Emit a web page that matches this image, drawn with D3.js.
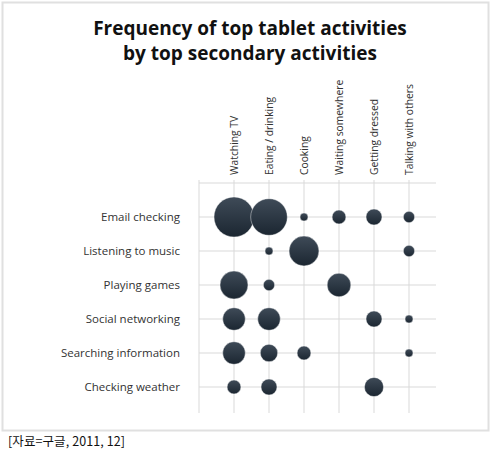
<!DOCTYPE html>
<html><head><meta charset="utf-8">
<script src="https://cdn.jsdelivr.net/npm/d3@7/dist/d3.min.js"></script>
<style>body{margin:0;background:#fff}svg{display:block}</style>
</head><body>
<svg id="c" width="500" height="456"></svg>
<script>
const titleLines = ["Frequency of top tablet activities", "by top secondary activities"];
const columns = ["Watching TV", "Eating / drinking", "Cooking", "Waiting somewhere", "Getting dressed", "Talking with others"];
const rows = ["Email checking", "Listening to music", "Playing games", "Social networking", "Searching information", "Checking weather"];
// relative frequency, one array per row, aligned with columns (0 = none)
const emailChecking     = [100, 84, 4, 12, 16, 8];
const listeningToMusic  = [0, 4, 56, 0, 0, 8];
const playingGames      = [49, 8, 0, 35, 0, 0];
const socialNetworking  = [32, 32, 0, 0, 16, 4];
const searchingInfo     = [32, 19, 12, 0, 0, 4];
const checkingWeather   = [12, 16, 0, 0, 23, 0];
const sourceNote = "[자료=구글, 2011, 12]";

const matrix = [emailChecking, listeningToMusic, playingGames, socialNetworking, searchingInfo, checkingWeather];
const cells = [];
matrix.forEach((vals, ri) => vals.forEach((v, ci) => { if (v > 0) cells.push({row: rows[ri], col: columns[ci], value: v}); }));

const svg = d3.select("#c");
const font = "'Open Sans', sans-serif";

// frame
svg.append("rect").attr("x", 2.5).attr("y", 2.5).attr("width", 486).attr("height", 428)
  .attr("fill", "#fff").attr("stroke", "#e0e0e0").attr("stroke-width", 2);

// title
svg.append("text").attr("x", 250).attr("y", 35).attr("text-anchor", "middle")
  .attr("font-family", font).attr("font-weight", 700).attr("font-size", 19).attr("fill", "#111")
  .selectAll("tspan").data(titleLines).join("tspan")
  .attr("x", 250).attr("dy", (d, i) => i ? 25 : 0).text(d => d);

// scales
const x = d3.scalePoint().domain(["", ...columns]).range([199, 409]);
const y = d3.scalePoint().domain(["", ...rows]).range([183, 387]);
const r = d3.scaleSqrt().domain([0, 100]).range([0, 20]);

const g = svg.append("g");
// grid: vertical
g.selectAll("line.v").data(x.domain()).join("line").attr("class", "v")
  .attr("x1", d => x(d)).attr("x2", d => x(d)).attr("y1", 180).attr("y2", 413)
  .attr("stroke", "#d9d9d9").attr("stroke-width", 1);
// grid: horizontal
g.selectAll("line.h").data(y.domain()).join("line").attr("class", "h")
  .attr("x1", 199).attr("x2", 436).attr("y1", d => y(d)).attr("y2", d => y(d))
  .attr("stroke", "#d9d9d9").attr("stroke-width", 1);

// column labels
g.selectAll("text.col").data(columns).join("text").attr("class", "col")
  .attr("transform", d => `translate(${x(d) + 4},175) rotate(-90)`)
  .attr("font-family", font).attr("font-size", 10.3).attr("fill", "#333")
  .text(d => d);

// row labels
g.selectAll("text.row").data(rows).join("text").attr("class", "row")
  .attr("x", 180).attr("y", d => y(d) + 4).attr("text-anchor", "end")
  .attr("font-family", font).attr("font-size", 11.5).attr("fill", "#333")
  .text(d => d);

// gradient
const grad = svg.append("defs").append("linearGradient").attr("id", "bub")
  .attr("x1", 0).attr("y1", 0).attr("x2", 0).attr("y2", 1);
grad.append("stop").attr("offset", "0%").attr("stop-color", "#3f4b58");
grad.append("stop").attr("offset", "100%").attr("stop-color", "#1b2631");

g.selectAll("circle").data(cells).join("circle")
  .attr("cx", d => x(d.col)).attr("cy", d => y(d.row)).attr("r", d => r(d.value))
  .attr("fill", "url(#bub)").attr("stroke", "#fff").attr("stroke-opacity", 0.6).attr("stroke-width", 0.7);

// source
svg.append("text").attr("x", 8).attr("y", 446)
  .attr("font-family", "'Noto Sans CJK KR', sans-serif").attr("font-size", 12.5).attr("fill", "#111")
  .attr("textLength", 117).attr("lengthAdjust", "spacing")
  .text(sourceNote);
</script>
</body></html>
